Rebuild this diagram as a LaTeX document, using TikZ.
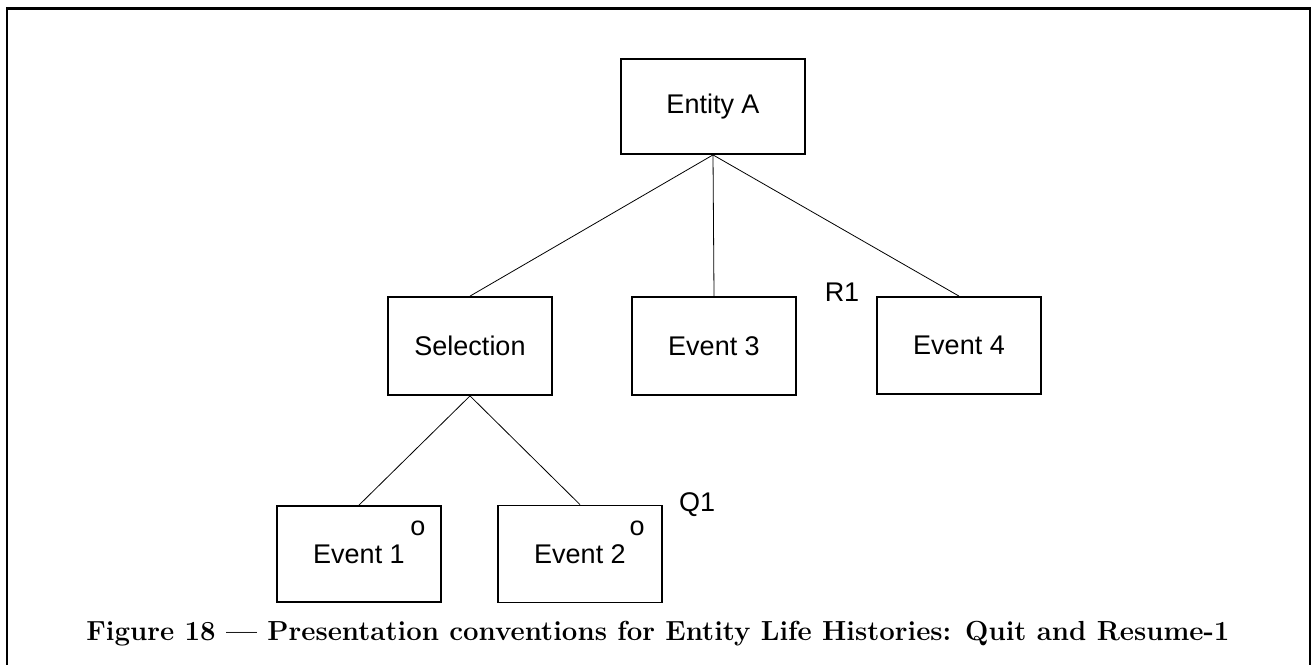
\documentclass[tikz,border=0pt]{standalone}
\usepackage{fontspec}
\setmainfont{Latin Modern Roman}
\newfontfamily\labelfont{Liberation Sans}
\begin{document}
\begin{tikzpicture}[x=1pt,y=-1pt,
  elhbox/.style={draw,line width=1.8pt,rectangle,minimum width=164pt,minimum height=97pt,
    inner sep=0pt,font=\labelfont\fontsize{27}{30}\selectfont},
  tag/.style={inner sep=0pt,font=\labelfont\fontsize{27}{30}\selectfont},
  link/.style={line width=0.8pt},
  frameline/.style={line width=2.6pt}]
\useasboundingbox (0,0) rectangle (1316,664);
% outer frame, open at the bottom
\draw[frameline] (7,670) -- (7,8.5) -- (1310,8.5) -- (1310,670);
% structure boxes
\node[elhbox,minimum width=184pt,minimum height=95pt] (ea) at (713,106.5) {Entity A};
\node[elhbox,minimum height=98pt] (sel) at (470,346) {Selection};
\node[elhbox,minimum height=98pt] (e3) at (714,346) {\raisebox{-3pt}{Event 3}};
\node[elhbox] (e4) at (959,345.5) {\raisebox{-2pt}{Event 4}};
\node[elhbox,minimum height=96pt] (e1) at (359,554) {\raisebox{-3pt}{Event 1}};
\node[elhbox] (e2) at (580,554) {\raisebox{-3pt}{Event 2}};
% selection markers
\node[tag] (o1) at (418,528) {o};
\node[tag] (o2) at (637,528) {o};
% quit / resume labels
\node[tag] (r1) at (842,292) {R1};
\node[tag] (q1) at (697,505) {Q1};
% connectors
\draw[link] (ea.south) -- (sel.north);
\draw[link] (ea.south) -- (e3.north);
\draw[link] (ea.south) -- (e4.north);
\draw[link] (sel.south) -- (e1.north);
\draw[link] (sel.south) -- (e2.north);
% caption
\node[inner sep=0pt,font=\bfseries\fontsize{27.6}{30}\selectfont] (cap) at (658,634)
  {Figure 18 --- Presentation conventions for Entity Life Histories: Quit and Resume-1};
\end{tikzpicture}
\end{document}
